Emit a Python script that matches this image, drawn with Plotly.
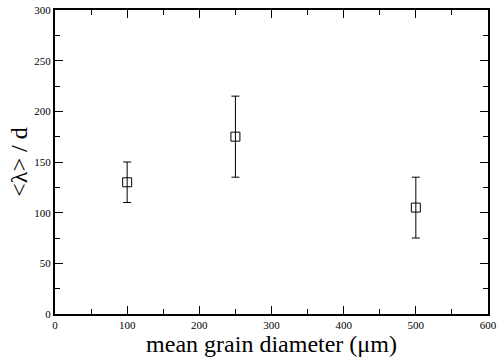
import plotly.graph_objects as go

diameters = [100, 250, 500]
lam_over_d = [130, 175, 105]
err = [20, 40, 30]

fig = go.Figure()
fig.add_trace(go.Scatter(
    x=diameters, y=lam_over_d, mode="markers",
    marker=dict(symbol="square-open", size=9, color="black", line=dict(width=1)),
    error_y=dict(type="data", array=err, visible=True, color="black", thickness=1, width=4),
    showlegend=False,
))

axis_common = dict(
    showgrid=False, zeroline=False, showline=True, linecolor="black", linewidth=2,
    mirror="ticks", ticks="inside", ticklen=8, tickwidth=1, tickcolor="black",
    automargin=False,
    tickfont=dict(family="Liberation Serif", size=11, color="black"),
)
fig.update_xaxes(
    range=[0, 600], dtick=100, tick0=0,
    minor=dict(dtick=50, ticks="inside", ticklen=5, tickcolor="black", tickwidth=1),
    title=dict(text="mean grain diameter (μm)", font=dict(family="Liberation Serif", size=24, color="black"), standoff=0),
    **axis_common,
)
fig.update_yaxes(
    range=[0, 300], dtick=50, tick0=0,
    minor=dict(dtick=25, ticks="inside", ticklen=5, tickcolor="black", tickwidth=1),
    title=dict(text="&lt;λ&gt; / d", font=dict(family="Liberation Serif", size=24, color="black"), standoff=0),
    **axis_common,
)
fig.update_layout(
    width=498, height=359,
    margin=dict(l=55, r=10, t=10, b=45),
    paper_bgcolor="white", plot_bgcolor="white",
)
fig.write_html("out.html")
